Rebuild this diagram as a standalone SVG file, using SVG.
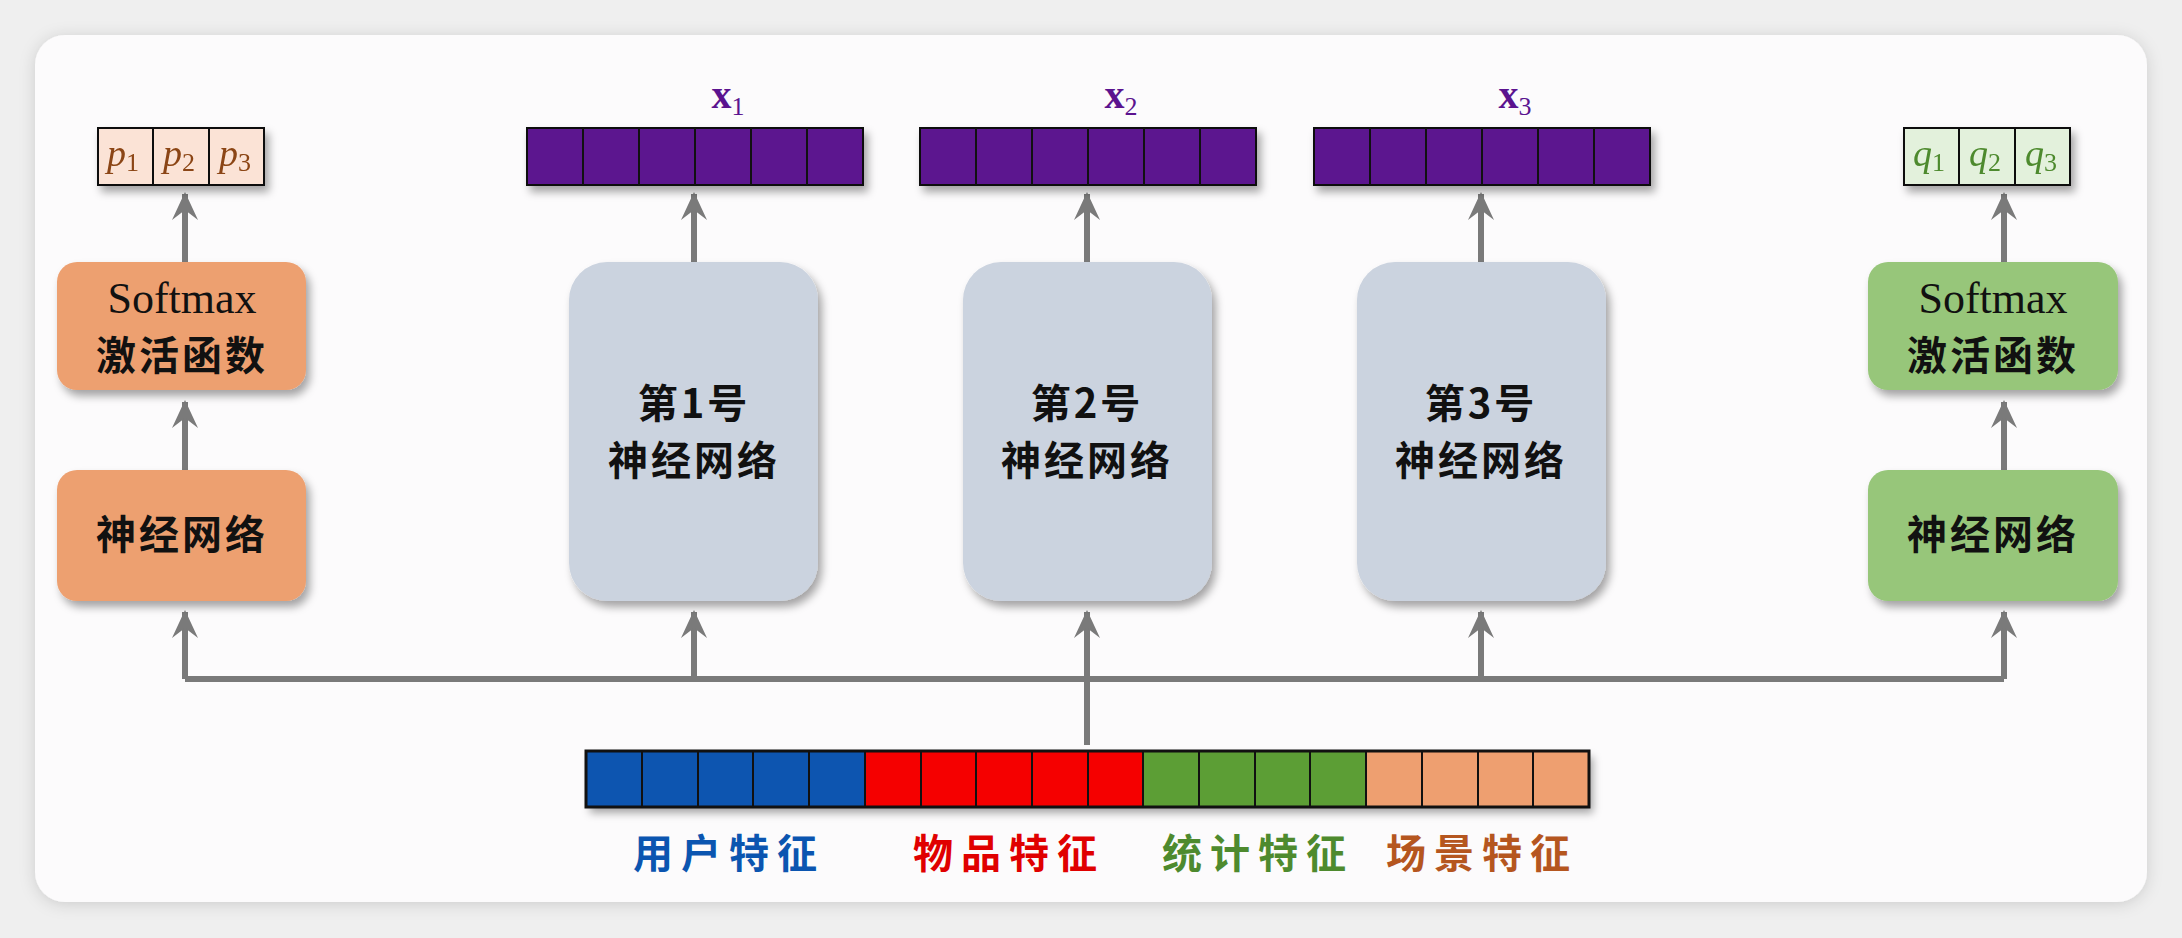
<svg xmlns="http://www.w3.org/2000/svg" width="2182" height="938" viewBox="0 0 2182 938">
<defs>
<filter id="sh" x="-20%" y="-20%" width="140%" height="150%"><feDropShadow dx="4" dy="6" stdDeviation="4" flood-color="#000" flood-opacity="0.35"/></filter>
<filter id="ps" x="-5%" y="-5%" width="110%" height="110%"><feDropShadow dx="0" dy="2" stdDeviation="8" flood-color="#000" flood-opacity="0.15"/></filter>
<marker id="ah" viewBox="0 0 30 30" refX="28" refY="15" markerWidth="30" markerHeight="30" markerUnits="userSpaceOnUse" orient="auto">
<path d="M30 15 L2 2 L12 15 L2 28 Z" fill="#7a7a7a"/>
</marker>
</defs>
<style>
.cn{font-family:"Noto Sans CJK SC",sans-serif;font-weight:700;font-size:40px;fill:#111;text-anchor:middle;letter-spacing:3px}
.en{font-family:"Liberation Serif",serif;font-size:44px;fill:#111;text-anchor:middle}
.ln{stroke:#7a7a7a;stroke-width:6;fill:none}
.cellb{stroke:#111;stroke-width:2}
.lab{font-family:"Noto Sans CJK SC",sans-serif;font-weight:700;font-size:40px;text-anchor:middle;letter-spacing:8px}
.pv{font-family:"Liberation Serif",serif;font-style:italic;font-size:38px;text-anchor:middle}
.xl{font-family:"Liberation Serif",serif;font-weight:700;font-size:40px;fill:#5B138F;text-anchor:middle}
</style>
<rect width="2182" height="938" fill="#efefef"/>
<rect x="35" y="35" width="2112" height="867" rx="30" fill="#fcfbfc" filter="url(#ps)"/>

<g id="connectors">
<path class="ln" d="M1087 745 V679 M185 679 H2004"/>
<path class="ln" d="M185 679 V612" marker-end="url(#ah)"/>
<path class="ln" d="M694 679 V612" marker-end="url(#ah)"/>
<path class="ln" d="M1087 679 V612" marker-end="url(#ah)"/>
<path class="ln" d="M1481 679 V612" marker-end="url(#ah)"/>
<path class="ln" d="M2004 679 V612" marker-end="url(#ah)"/>
<path class="ln" d="M185 470 V402" marker-end="url(#ah)"/>
<path class="ln" d="M2004 470 V402" marker-end="url(#ah)"/>
<path class="ln" d="M185 262 V194" marker-end="url(#ah)"/>
<path class="ln" d="M2004 262 V194" marker-end="url(#ah)"/>
<path class="ln" d="M694 262 V194" marker-end="url(#ah)"/>
<path class="ln" d="M1087 262 V194" marker-end="url(#ah)"/>
<path class="ln" d="M1481 262 V194" marker-end="url(#ah)"/>
</g>

<g id="p-out" filter="url(#sh)">
<rect x="98" y="128" width="166" height="57" fill="#FBE3D6" stroke="#111" stroke-width="2"/>
<path class="cellb" d="M153 128 V185 M209 128 V185"/>
<text class="pv" fill="#8B4513" x="123" y="166">p<tspan font-size="26" dy="5" font-style="normal">1</tspan></text>
<text class="pv" fill="#8B4513" x="179" y="166">p<tspan font-size="26" dy="5" font-style="normal">2</tspan></text>
<text class="pv" fill="#8B4513" x="235" y="166">p<tspan font-size="26" dy="5" font-style="normal">3</tspan></text>
</g>
<g id="q-out" filter="url(#sh)">
<rect x="1904" y="128" width="166" height="57" fill="#E3F1DC" stroke="#111" stroke-width="2"/>
<path class="cellb" d="M1959 128 V185 M2015 128 V185"/>
<text class="pv" fill="#4E8A2E" x="1929" y="166">q<tspan font-size="26" dy="5" font-style="normal">1</tspan></text>
<text class="pv" fill="#4E8A2E" x="1985" y="166">q<tspan font-size="26" dy="5" font-style="normal">2</tspan></text>
<text class="pv" fill="#4E8A2E" x="2041" y="166">q<tspan font-size="26" dy="5" font-style="normal">3</tspan></text>
</g>

<g id="softmax-left"><rect x="57" y="262" width="249" height="128" rx="20" fill="#EDA070" filter="url(#sh)"/>
<text class="en" x="182" y="313">Softmax</text><text class="cn" x="182" y="370">激活函数</text></g>
<g id="nn-left"><rect x="57" y="470" width="249" height="131" rx="20" fill="#EDA070" filter="url(#sh)"/>
<text class="cn" x="182" y="549">神经网络</text></g>
<g id="softmax-right"><rect x="1868" y="262" width="250" height="128" rx="20" fill="#97C67A" filter="url(#sh)"/>
<text class="en" x="1993" y="313">Softmax</text><text class="cn" x="1993" y="370">激活函数</text></g>
<g id="nn-right"><rect x="1868" y="470" width="250" height="131" rx="20" fill="#97C67A" filter="url(#sh)"/>
<text class="cn" x="1993" y="549">神经网络</text></g>

<g id="net1"><rect x="569" y="262" width="249" height="339" rx="38" fill="#CBD3DF" filter="url(#sh)"/>
<text class="cn" x="694" y="418">第1号</text><text class="cn" x="694" y="475">神经网络</text></g>
<g id="net2"><rect x="963" y="262" width="249" height="339" rx="38" fill="#CBD3DF" filter="url(#sh)"/>
<text class="cn" x="1087" y="418">第2号</text><text class="cn" x="1087" y="475">神经网络</text></g>
<g id="net3"><rect x="1357" y="262" width="249" height="339" rx="38" fill="#CBD3DF" filter="url(#sh)"/>
<text class="cn" x="1481" y="418">第3号</text><text class="cn" x="1481" y="475">神经网络</text></g>

<g id="x1"><rect x="527" y="128" width="336" height="57" fill="#5B138F" stroke="#111" stroke-width="2" filter="url(#sh)"/>
<path class="cellb" d="M583 128V185M639 128V185M695 128V185M751 128V185M807 128V185"/>
<text class="xl" x="728" y="108">x<tspan font-size="26" font-weight="400" dy="7">1</tspan></text></g>
<g id="x2"><rect x="920" y="128" width="336" height="57" fill="#5B138F" stroke="#111" stroke-width="2" filter="url(#sh)"/>
<path class="cellb" d="M976 128V185M1032 128V185M1088 128V185M1144 128V185M1200 128V185"/>
<text class="xl" x="1121" y="108">x<tspan font-size="26" font-weight="400" dy="7">2</tspan></text></g>
<g id="x3"><rect x="1314" y="128" width="336" height="57" fill="#5B138F" stroke="#111" stroke-width="2" filter="url(#sh)"/>
<path class="cellb" d="M1370 128V185M1426 128V185M1482 128V185M1538 128V185M1594 128V185"/>
<text class="xl" x="1515" y="108">x<tspan font-size="26" font-weight="400" dy="7">3</tspan></text></g>

<g id="features">
<g filter="url(#sh)">
<rect x="586" y="751" width="279" height="56" fill="#0B55B0"/>
<rect x="865" y="751" width="278" height="56" fill="#F50000"/>
<rect x="1143" y="751" width="223" height="56" fill="#5C9E35"/>
<rect x="1366" y="751" width="223" height="56" fill="#EE9F70"/>
</g>
<rect x="586" y="751" width="1003" height="56" fill="none" stroke="#111" stroke-width="3"/>
<path class="cellb" d="M642 751V807M698 751V807M753 751V807M809 751V807M865 751V807M921 751V807M976 751V807M1032 751V807M1088 751V807M1143 751V807M1199 751V807M1255 751V807M1310 751V807M1366 751V807M1422 751V807M1478 751V807M1533 751V807"/>
<text class="lab" x="729" y="868" fill="#0B55B0">用户特征</text>
<text class="lab" x="1009" y="868" fill="#E00000">物品特征</text>
<text class="lab" x="1258" y="868" fill="#4E8A2E">统计特征</text>
<text class="lab" x="1482" y="868" fill="#B5561F">场景特征</text>
</g>
</svg>
